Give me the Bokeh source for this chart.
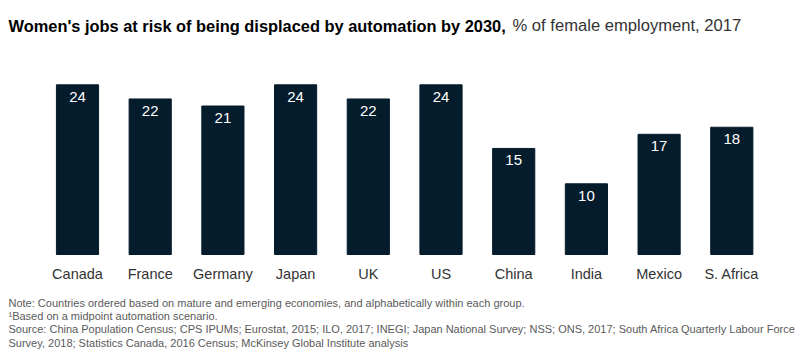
from bokeh.plotting import figure
from bokeh.models import ColumnDataSource, Range1d, Label
from bokeh.core.properties import value
from bokeh.embed import file_html
from bokeh.resources import INLINE

countries = ["Canada", "France", "Germany", "Japan", "UK", "US", "China", "India", "Mexico", "S. Africa"]
risk_pct = [24, 22, 21, 24, 22, 24, 15, 10, 17, 18]
value_labels = [str(v) for v in risk_pct]

title_bold = "Women's jobs at risk of being displaced by automation by 2030,"
title_rest = "% of female employment, 2017"
notes = [
    "Note: Countries ordered based on mature and emerging economies, and alphabetically within each group.",
    "\u00b9Based on a midpoint automation scenario.",
    "Source: China Population Census; CPS IPUMs; Eurostat, 2015; ILO, 2017; INEGI; Japan National Survey; NSS; ONS, 2017; South Africa Quarterly Labour Force",
    "Survey, 2018; Statistics Canada, 2016 Census; McKinsey Global Institute analysis",
]

FONT = "Liberation Sans"
BAR = "#051C2C"
W, H = 804, 352

# layout (pixels): category pitch and value scale
PITCH = 72.7
FIRST_CENTER = 77.0
PX_PER_UNIT = 7.07
BASE_Y = 254.0  # canvas y (from top) of the bar baseline

xs = list(range(len(countries)))
src = ColumnDataSource(dict(x=xs, y=risk_pct, lab=value_labels, name=countries))

x0 = -FIRST_CENTER / PITCH
x1 = x0 + W / PITCH
y0 = -(H - BASE_Y) / PX_PER_UNIT
y1 = BASE_Y / PX_PER_UNIT

p = figure(width=W, height=H, output_backend="svg", toolbar_location=None,
           x_range=Range1d(x0, x1), y_range=Range1d(y0, y1),
           x_axis_location=None, y_axis_location=None,
           min_border=0)
p.outline_line_color = None
p.grid.visible = False
p.background_fill_color = "white"
p.border_fill_color = "white"

p.vbar(x="x", top="y", width=0.58, bottom=0, source=src, color=BAR, line_color=BAR)
p.text(x="x", y="y", text="lab", source=src, text_color="white", text_align="center",
       text_baseline="middle", y_offset=12, text_font=value(FONT), text_font_size="15px")
p.text(x="x", y=0, text="name", source=src, text_color="#333333", text_align="center",
       text_baseline="middle", y_offset=19, text_font=value(FONT), text_font_size="14.5px")


def sy(y):
    return H - y


p.add_layout(Label(x=8, y=sy(25), x_units="screen", y_units="screen", text=title_bold,
                   text_font=FONT, text_font_style="bold", text_font_size="16.4px",
                   text_color="#000000", text_baseline="alphabetic"))
p.add_layout(Label(x=512, y=sy(25), x_units="screen", y_units="screen", text=title_rest,
                   text_font=FONT, text_font_size="16.6px",
                   text_color="#333333", text_baseline="alphabetic"))
for i, line in enumerate(notes):
    p.add_layout(Label(x=8, y=sy(302.3 + 13.3 * i), x_units="screen", y_units="screen",
                       text=line, text_font=FONT, text_font_size="11px",
                       text_color="#5a5a5a", text_baseline="alphabetic"))

open("out.html", "w").write(file_html(p, INLINE))
